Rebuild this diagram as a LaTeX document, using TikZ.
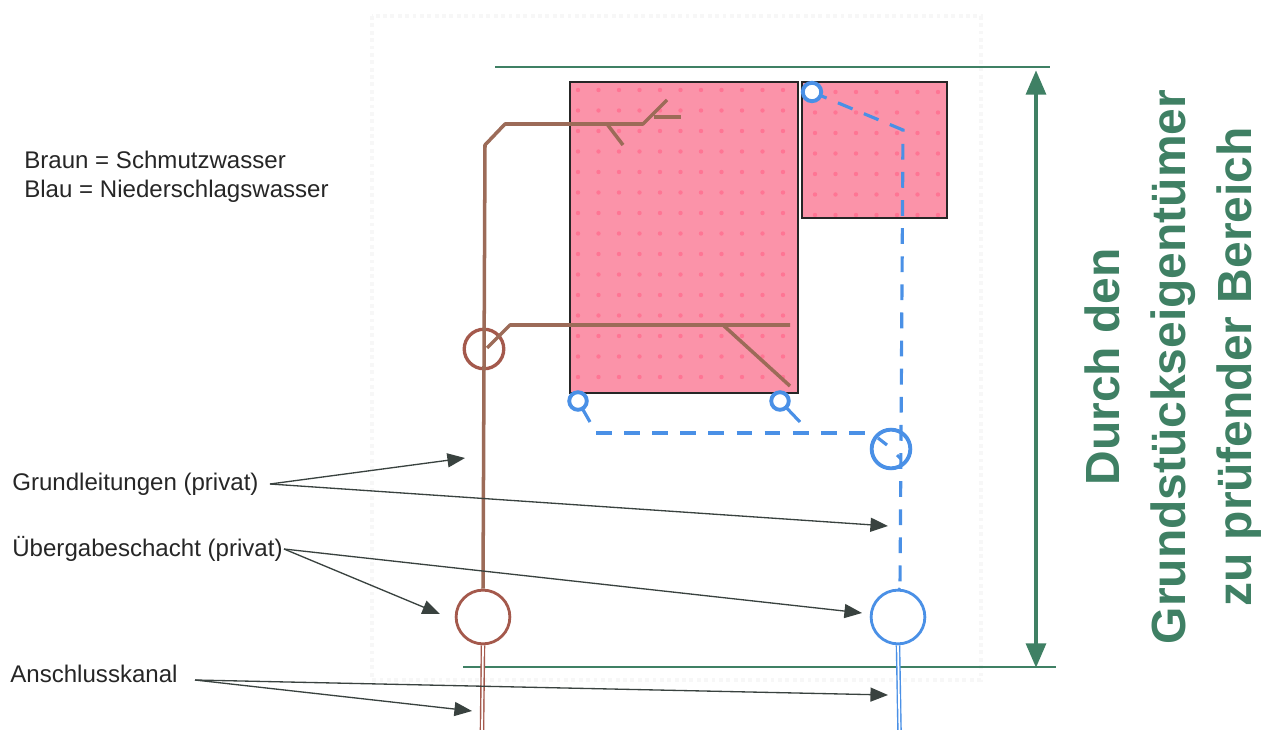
\documentclass[tikz,border=0pt]{standalone}
\usepackage{fontspec}
\setmainfont{Liberation Sans}
\usetikzlibrary{arrows.meta}
\definecolor{pinkfill}{HTML}{FB93A9}
\definecolor{pinkdot}{HTML}{FF7594}
\definecolor{brownpipe}{HTML}{9C6B58}
\definecolor{brownring}{HTML}{A4594C}
\definecolor{bluepipe}{HTML}{4A90E6}
\definecolor{greenline}{HTML}{3F8064}
\definecolor{arrowdark}{HTML}{39423F}
\tikzset{
  house/.style={draw=black!85, line width=1.1pt, fill=pinkfill},
  plotline/.style={draw=black!3, line width=2.2pt, dotted},
  pipebr/.style={draw=brownpipe, line width=2pt, line join=round},
  pipebl/.style={draw=bluepipe, line width=1.8pt, dash pattern=on 9pt off 7pt},
  bluesolid/.style={draw=bluepipe, line width=1.8pt},
  ring/.style={circle, draw, fill=none, inner sep=0pt, line width=1.6pt},
  clean/.style={circle, draw=bluepipe, fill=white, inner sep=0pt, line width=2.2pt, minimum size=10.5pt},
  feed/.style={double, double distance=1pt, line width=0.8pt},
  limit/.style={draw=greenline, line width=1.4pt},
  note/.style={draw=arrowdark, line width=0.75pt, -{Triangle[length=10pt,width=8pt,fill=arrowdark]}},
  lab/.style={text=black!85, font=\fontsize{13.7}{16}\selectfont, inner sep=0pt},
  rangelab/.style={text=greenline, font=\fontsize{27.3}{37.5}\selectfont\bfseries, rotate=90, align=center},
}
\begin{document}
\begin{tikzpicture}[x=0.02cm,y=-0.02cm]
  \useasboundingbox (0,0) rectangle (1269,730);
  \draw[plotline] (372,16) rectangle (981,680);
  % buildings
  \draw[house] (570,82) rectangle (798,393);
  \draw[house] (802,82) rectangle (947,218);
  \begin{scope}
    \clip (572,84) rectangle (796,391);
    \foreach \i in {0,...,11}
      \foreach \j in {0,...,15}
        \fill[pinkdot] ({578+\i*20.5},{90+\j*20.5}) circle (2.2);
  \end{scope}
  \begin{scope}
    \clip (804,84) rectangle (945,216);
    \foreach \i in {0,...,6}
      \foreach \j in {0,...,6}
        \fill[pinkdot] ({815+\i*20.5},{92+\j*20.5}) circle (2.2);
  \end{scope}
  % boundary of the checked area
  \coordinate (topL) at (495,67);
  \coordinate (topR) at (1050,67);
  \coordinate (botL) at (463,667);
  \coordinate (botR) at (1056,667);
  \coordinate (spanT) at (1036,70);
  \coordinate (spanB) at (1036,668);
  \draw[limit] (topL)--(topR);
  \draw[limit] (botL)--(botR);
  \draw[draw=greenline, line width=2.8pt, {Triangle[length=14pt,width=11pt]}-{Triangle[length=14pt,width=11pt]}] (spanT)--(spanB);
  % shafts
  \node[ring, draw=brownring, minimum size=30.6pt] (shaftBr) at (483,617) {};
  \node[ring, draw=bluepipe, minimum size=30.6pt] (shaftBl) at (898,617) {};
  \node[ring, draw=brownring, line width=1.9pt, minimum size=22.5pt] (ringBr) at (484,349) {};
  \node[ring, draw=bluepipe, line width=2.2pt, minimum size=22pt] (ringBl) at (891,449) {};
  % brown pipes
  \coordinate (brA) at (485,145);
  \coordinate (brB) at (505,124);
  \coordinate (brC) at (643,124);
  \coordinate (brD) at (667,100);
  \coordinate (brE) at (654,117);
  \coordinate (brF) at (681,117);
  \coordinate (brG) at (607,124);
  \coordinate (brH) at (623,145);
  \coordinate (brI) at (487,348);
  \coordinate (brJ) at (510,325);
  \coordinate (brK) at (790,325);
  \coordinate (brL) at (723,325);
  \coordinate (brM) at (790,386);
  \draw[pipebr] (shaftBr.north) -- (brA) -- (brB) -- (brC) -- (brD);
  \draw[pipebr] (brE) -- (brF);
  \draw[pipebr] (brG) -- (brH);
  \draw[pipebr] (brI) -- (brJ) -- (brK);
  \draw[pipebr] (brL) -- (brM);
  % blue pipes
  \coordinate (blA) at (903,130);
  \coordinate (blB) at (596,433);
  \coordinate (blC) at (866,433);
  \coordinate (blF) at (900,590);
  \coordinate (tickA) at (878,438);
  \coordinate (tickB) at (887,445);
  \coordinate (tickC) at (897,455);
  \coordinate (tickD) at (901,459);
  \coordinate (stubA) at (590,422);
  \coordinate (stubB) at (800,422);
  \draw[pipebl] (812,92) -- (blA) -- (blF);
  \draw[pipebl] (blB) -- (blC);
  \draw[bluesolid] (578,401) -- (stubA);
  \draw[bluesolid] (780,401) -- (stubB);
  \draw[bluesolid] (tickA) -- (tickB);
  \draw[bluesolid] (tickC) -- (tickD);
  \node[clean] (inA) at (812,92) {};
  \node[clean, minimum size=10pt] (inB) at (578,401) {};
  \node[clean, minimum size=10pt] (inC) at (780,401) {};
  \draw[bluesolid] (blF) -- (shaftBl.north);
  % connection sewers
  \coordinate (endBr) at (482,730);
  \coordinate (endBl) at (899.5,730);
  \draw[feed, draw=brownring] (shaftBr.south) -- (endBr);
  \draw[feed, draw=bluepipe] (shaftBl.south) -- (endBl);
  % labels
  \node[lab, anchor=west] (brownkey) at (24,160) {Braun = Schmutzwasser};
  \node[lab, anchor=west] (bluekey) at (24,191) {Blau = Niederschlagswasser};
  \node[lab, anchor=west] (grund) at (12,484) {Grundleitungen (privat)};
  \node[lab, anchor=west] (schacht) at (12,549) {Übergabeschacht (privat)};
  \node[lab, anchor=west] (kanal) at (10,674) {Anschlusskanal};
  \coordinate (grundS) at (270,484);
  \coordinate (schachtS) at (284,549);
  \coordinate (kanalS) at (195,680);
  \coordinate (grundA) at (465,458);
  \coordinate (grundB) at (888,526);
  \coordinate (schachtA) at (440,614);
  \coordinate (schachtB) at (862,613);
  \coordinate (kanalA) at (472,711);
  \coordinate (kanalB) at (888,695);
  \foreach \S/\T in {grundS/grundA,grundS/grundB,schachtS/schachtA,schachtS/schachtB,kanalS/kanalA,kanalS/kanalB}
    \draw[note] (\S)--(\T);
  \node[rangelab] (area) at (1173,367) {Durch den\\Grundstückseigentümer\\zu prüfender Bereich};
\end{tikzpicture}
\end{document}
